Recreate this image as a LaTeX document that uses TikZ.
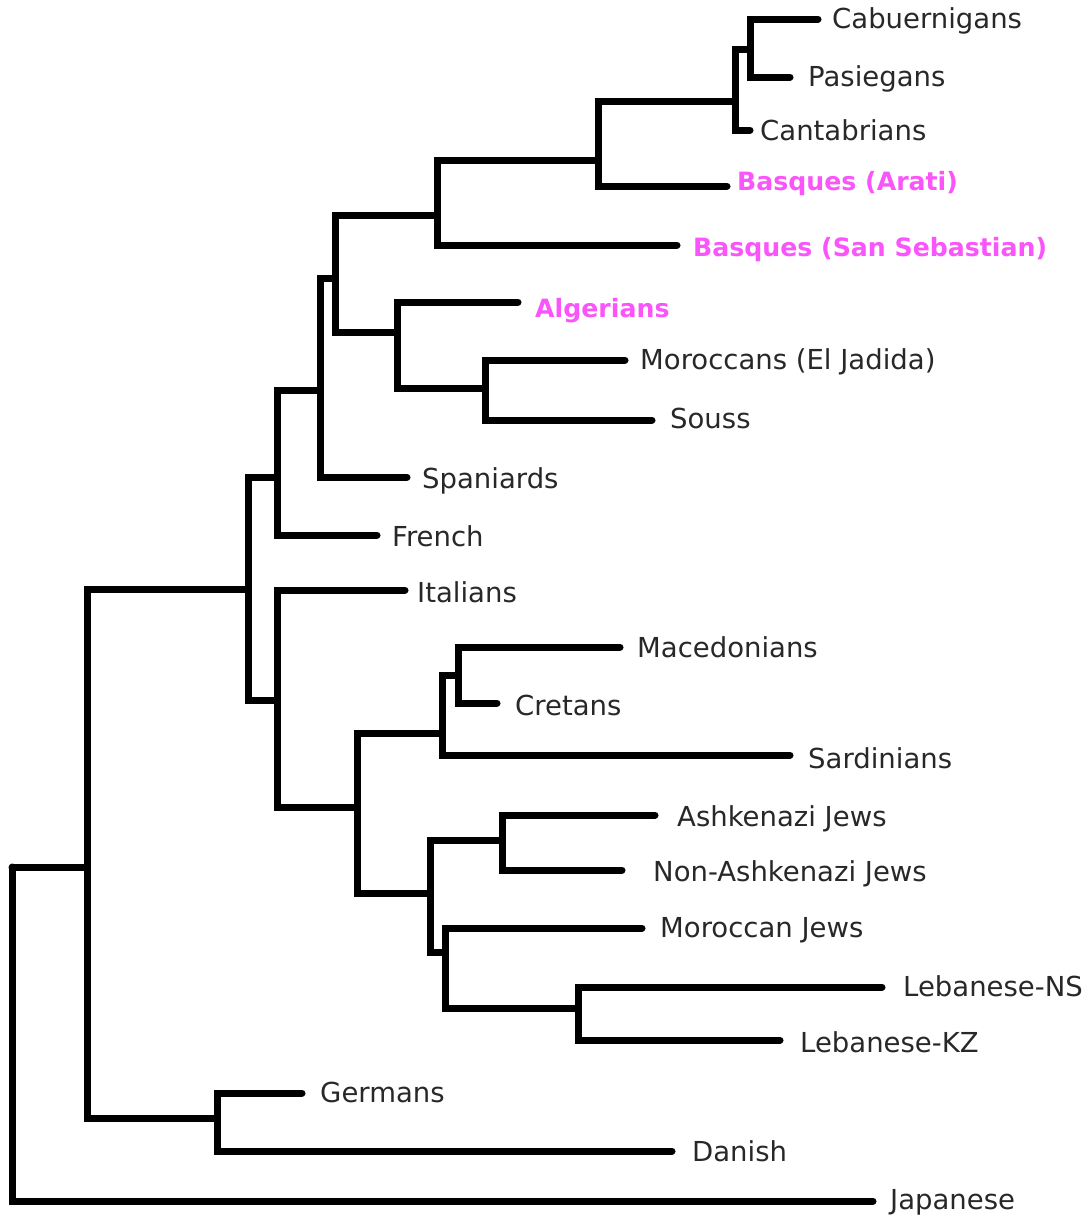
\documentclass[tikz,border=0pt]{standalone}
\usepackage{fontspec}
\setmainfont{DejaVu Sans}
\definecolor{hilite}{RGB}{250,85,250}
\definecolor{txt}{RGB}{40,40,40}
\begin{document}
\begin{tikzpicture}[x=1pt,y=-1pt,
  branch/.style={line width=7pt,line cap=round,line join=miter},
  leaf/.style={anchor=base west,inner sep=0pt,text=txt,font=\fontsize{27.5}{30}\selectfont},
  hleaf/.style={leaf,text=hilite,font=\fontsize{25.2}{30}\selectfont\bfseries}]
\useasboundingbox (0,0) rectangle (1089,1216);
\fill[white] (0,0) rectangle (1089,1216);

% leaf tips
\coordinate (tCab) at (818,19);
\coordinate (tPas) at (790,77);
\coordinate (tCan) at (750,130);
\coordinate (tBA)  at (727,186);
\coordinate (tBS)  at (677,245);
\coordinate (tAlg) at (518,302);
\coordinate (tMor) at (625,360);
\coordinate (tSou) at (652,420);
\coordinate (tSpa) at (407,477);
\coordinate (tFre) at (377,535);
\coordinate (tIta) at (405,590);
\coordinate (tMac) at (620,647);
\coordinate (tCre) at (497,703);
\coordinate (tSar) at (790,755);
\coordinate (tAsh) at (655,815);
\coordinate (tNon) at (622,870);
\coordinate (tMJ)  at (642,928);
\coordinate (tLNS) at (882,987);
\coordinate (tLKZ) at (780,1040);
\coordinate (tGer) at (302,1093);
\coordinate (tDan) at (672,1151);
\coordinate (tJap) at (873,1201);

% internal nodes
\coordinate (n1)  at (750,49);
\coordinate (n2)  at (735,101);
\coordinate (n3)  at (598,160);
\coordinate (n4)  at (437,215);
\coordinate (n5)  at (485,388);
\coordinate (n6)  at (397,332);
\coordinate (n7)  at (335,278);
\coordinate (n8)  at (320,390);
\coordinate (n9)  at (277,477);
\coordinate (n10) at (458,675);
\coordinate (n11) at (442,733);
\coordinate (n12) at (502,840);
\coordinate (n13) at (578,1008);
\coordinate (n14) at (445,952);
\coordinate (n15) at (430,893);
\coordinate (n16) at (357,807);
\coordinate (n17) at (277,700);
\coordinate (n18) at (248,589);
\coordinate (n19) at (217,1118);
\coordinate (n20) at (87,867);
\coordinate (root) at (12,867);

% branches
\draw[branch] (n1) |- (tCab) (n1) |- (tPas);
\draw[branch] (n2) |- (n1) (n2) |- (tCan);
\draw[branch] (n3) |- (n2) (n3) |- (tBA);
\draw[branch] (n4) |- (n3) (n4) |- (tBS);
\draw[branch] (n5) |- (tMor) (n5) |- (tSou);
\draw[branch] (n6) |- (tAlg) (n6) |- (n5);
\draw[branch] (n7) |- (n4) (n7) |- (n6);
\draw[branch] (n8) |- (n7) (n8) |- (tSpa);
\draw[branch] (n9) |- (n8) (n9) |- (tFre);
\draw[branch] (n10) |- (tMac) (n10) |- (tCre);
\draw[branch] (n11) |- (n10) (n11) |- (tSar);
\draw[branch] (n12) |- (tAsh) (n12) |- (tNon);
\draw[branch] (n13) |- (tLNS) (n13) |- (tLKZ);
\draw[branch] (n14) |- (tMJ) (n14) |- (n13);
\draw[branch] (n15) |- (n12) (n15) |- (n14);
\draw[branch] (n16) |- (n11) (n16) |- (n15);
\draw[branch] (n17) |- (tIta) (n17) |- (n16);
\draw[branch] (n18) |- (n9) (n18) |- (n17);
\draw[branch] (n19) |- (tGer) (n19) |- (tDan);
\draw[branch] (n20) |- (n18) (n20) |- (n19);
\draw[branch] (root) -- (n20) (root) |- (tJap);

% labels
\node[leaf]  (lCab) at (832,28)   {Cabuernigans};
\node[leaf]  (lPas) at (808,86)   {Pasiegans};
\node[leaf]  (lCan) at (760,140)  {Cantabrians};
\node[hleaf] (lBA)  at (737,190)  {Basques (Arati)};
\node[hleaf] (lBS)  at (693,256)  {Basques (San Sebastian)};
\node[hleaf] (lAlg) at (535,317)  {Algerians};
\node[leaf]  (lMor) at (640,369)  {Moroccans (El Jadida)};
\node[leaf]  (lSou) at (670,428)  {Souss};
\node[leaf]  (lSpa) at (422,488)  {Spaniards};
\node[leaf]  (lFre) at (392,546)  {French};
\node[leaf]  (lIta) at (417,602)  {Italians};
\node[leaf]  (lMac) at (637,657)  {Macedonians};
\node[leaf]  (lCre) at (515,715)  {Cretans};
\node[leaf]  (lSar) at (808,768)  {Sardinians};
\node[leaf]  (lAsh) at (677,826)  {Ashkenazi Jews};
\node[leaf]  (lNon) at (653,881)  {Non-Ashkenazi Jews};
\node[leaf]  (lMJ)  at (660,937)  {Moroccan Jews};
\node[leaf]  (lLNS) at (903,996)  {Lebanese-NS};
\node[leaf]  (lLKZ) at (800,1052) {Lebanese-KZ};
\node[leaf]  (lGer) at (320,1102) {Germans};
\node[leaf]  (lDan) at (692,1161) {Danish};
\node[leaf]  (lJap) at (890,1209) {Japanese};
\end{tikzpicture}
\end{document}
